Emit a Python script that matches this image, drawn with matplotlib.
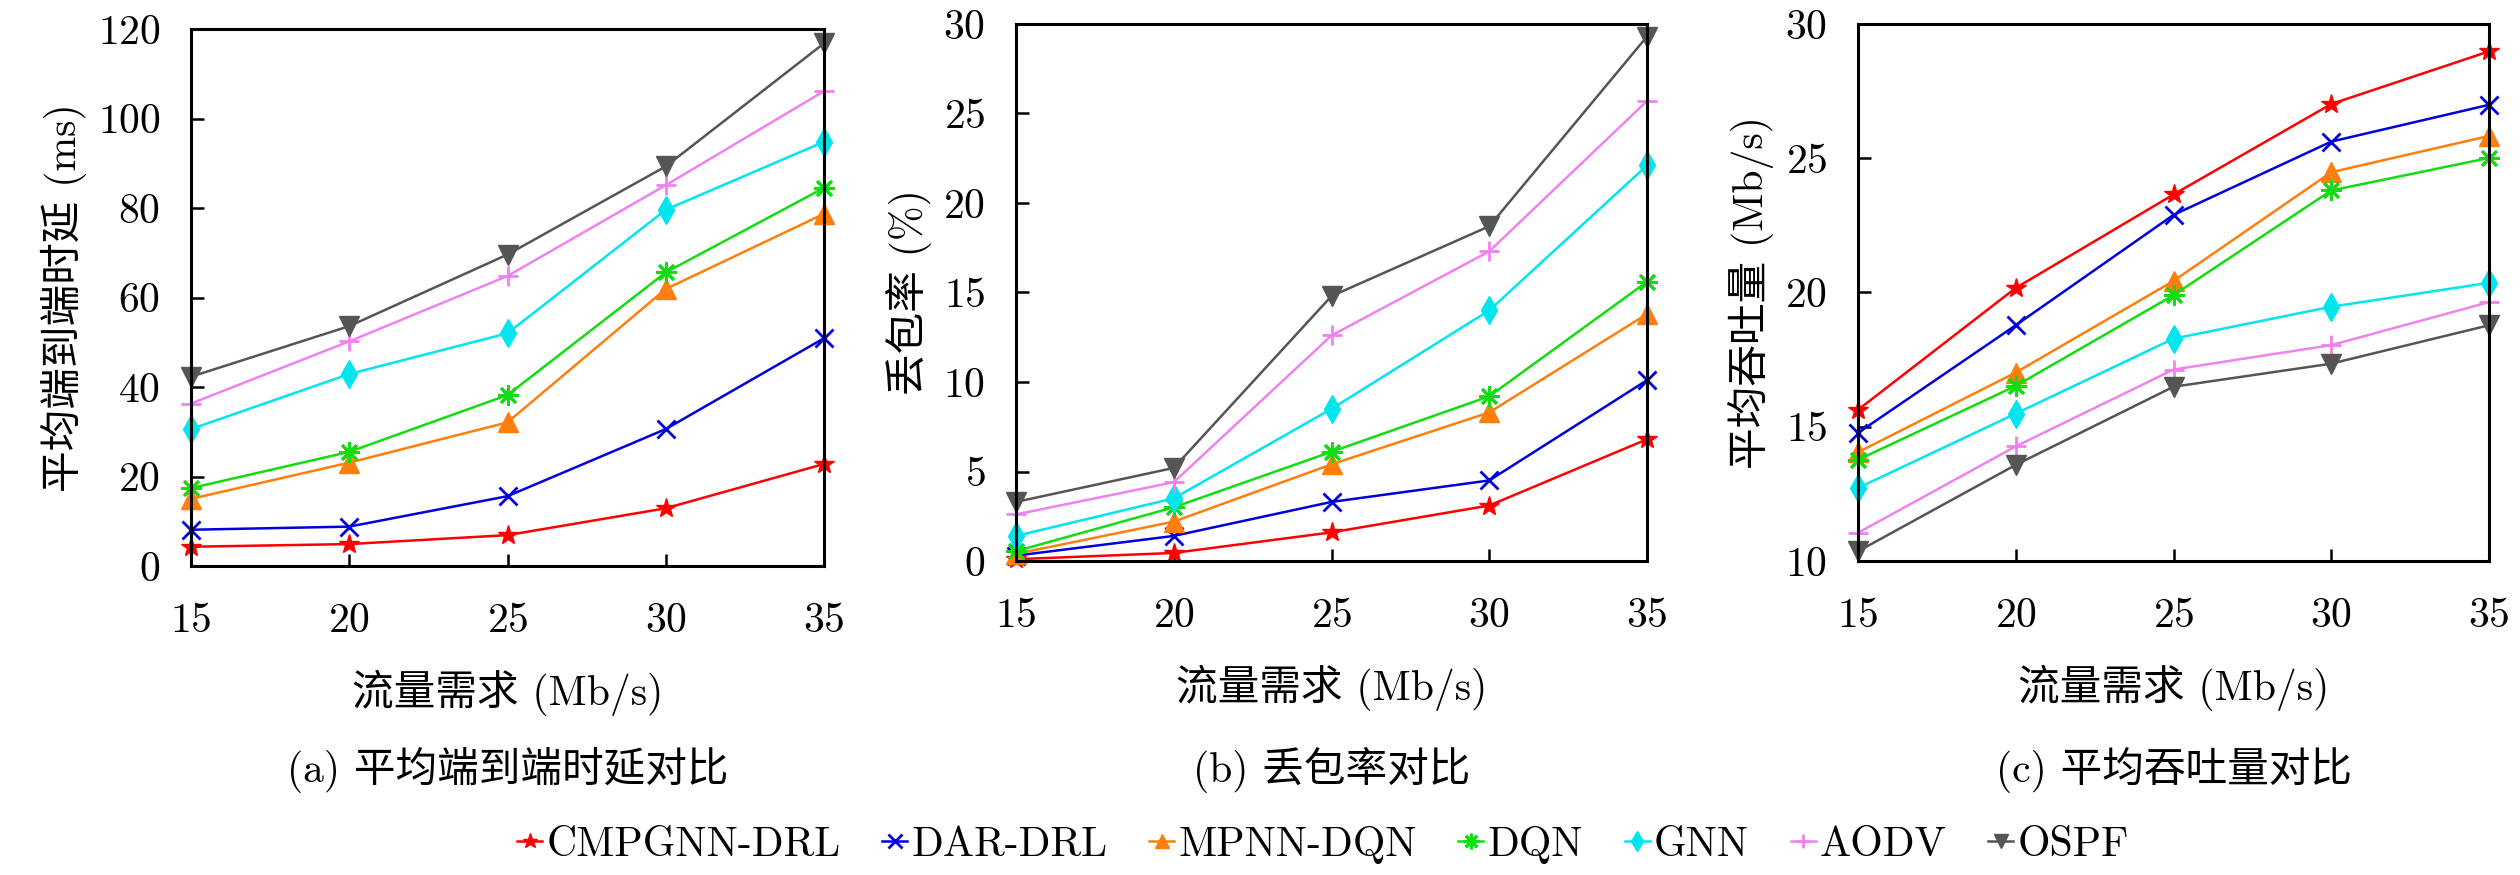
import numpy as np
import matplotlib
matplotlib.use('Agg')
import matplotlib.pyplot as plt

plt.rcParams['font.family'] = ['cmr10', 'Noto Sans CJK SC', 'DejaVu Sans']
plt.rcParams['axes.formatter.use_mathtext'] = True
plt.rcParams['mathtext.fontset'] = 'cm'

demand = [15, 20, 25, 30, 35]
methods = ['CMPGNN-DRL', 'DAR-DRL', 'MPNN-DQN', 'DQN', 'GNN', 'AODV', 'OSPF']

# (a) average end-to-end delay, ms
delay_cmpgnn = [4.3, 4.9, 6.9, 12.9, 22.8]
delay_dar = [8.1, 8.8, 15.6, 30.6, 50.9]
delay_mpnn = [15.0, 23.1, 32.1, 61.9, 78.7]
delay_dqn = [17.4, 25.5, 38.2, 65.6, 84.5]
delay_gnn = [30.6, 42.9, 52.0, 79.6, 94.8]
delay_aodv = [36.3, 50.2, 64.8, 85.1, 106.1]
delay_ospf = [42.3, 53.6, 69.6, 89.3, 116.8]

# (b) packet loss rate, %
loss_cmpgnn = [0.1, 0.45, 1.6, 3.1, 6.8]
loss_dar = [0.3, 1.4, 3.3, 4.5, 10.1]
loss_mpnn = [0.4, 2.2, 5.4, 8.3, 13.8]
loss_dqn = [0.55, 3.0, 6.1, 9.2, 15.6]
loss_gnn = [1.4, 3.5, 8.5, 14.0, 22.1]
loss_aodv = [2.6, 4.4, 12.6, 17.3, 25.7]
loss_ospf = [3.3, 5.2, 14.8, 18.7, 29.3]

# (c) average throughput, Mb/s
thr_cmpgnn = [15.63, 20.17, 23.65, 27.02, 28.98]
thr_dar = [14.77, 18.78, 22.89, 25.62, 26.99]
thr_mpnn = [14.05, 17.02, 20.43, 24.48, 25.83]
thr_dqn = [13.77, 16.52, 19.9, 23.8, 25.01]
thr_gnn = [12.72, 15.49, 18.28, 19.47, 20.36]
thr_aodv = [11.05, 14.27, 17.13, 18.04, 19.64]
thr_ospf = [10.36, 13.58, 16.49, 17.35, 18.78]

colors = ['#ff0000', '#0000dd', '#ff7f0e', '#11dd11', '#00e5ee', '#ee82ee', '#555555']
markers = ['*', 'x', '^', (8, 2, 0), 'd', '+', 'v']
msizes = [15, 13, 14, 15, 14, 14, 14]

panels = [
    ([delay_cmpgnn, delay_dar, delay_mpnn, delay_dqn, delay_gnn, delay_aodv, delay_ospf],
     '平均端到端时延 (ms)', (0, 120), [0, 20, 40, 60, 80, 100, 120], '(a) 平均端到端时延对比',
     [191, 824, 29, 566]),
    ([loss_cmpgnn, loss_dar, loss_mpnn, loss_dqn, loss_gnn, loss_aodv, loss_ospf],
     '丢包率 (%)', (0, 30), [0, 5, 10, 15, 20, 25, 30], '(b) 丢包率对比',
     [1016, 1647, 24, 561]),
    ([thr_cmpgnn, thr_dar, thr_mpnn, thr_dqn, thr_gnn, thr_aodv, thr_ospf],
     '平均吞吐量 (Mb/s)', (10, 30), [10, 15, 20, 25, 30], '(c) 平均吞吐量对比',
     [1858, 2489, 24, 561]),
]

W, H = 2520, 875
fig = plt.figure(figsize=(W / 100, H / 100), dpi=100)

fs = 30
for series, ylab, ylim, yticks, caption, (x0, x1, y0, y1) in panels:
    ax = fig.add_axes([x0 / W, 1 - y1 / H, (x1 - x0) / W, (y1 - y0) / H])
    for vals, name, c, mk, ms in zip(series, methods, colors, markers, msizes):
        ax.plot(demand, vals, color=c, marker=mk, markersize=ms, linewidth=1.8,
                markeredgewidth=2.0 if mk in ('x', '+', (8, 2, 0)) else 1.0,
                label=name, clip_on=False)
    ax.set_xlim(15, 35)
    ax.set_ylim(*ylim)
    ax.set_xticks(demand)
    ax.set_yticks(yticks)
    ax.tick_params(direction='in', length=9, width=1.8, labelsize=fs, top=False, right=False)
    ax.tick_params(axis='x', pad=26)
    ax.tick_params(axis='y', pad=22)
    for sp in ax.spines.values():
        sp.set_linewidth(2.2)
    ax.set_ylabel(ylab, fontsize=fs, labelpad=8)
    ax.set_xlabel('流量需求 (Mb/s)', fontsize=fs, labelpad=22)
    cx = (x0 + x1) / 2 / W
    fig.text(cx, 1 - 770 / H, caption, fontsize=fs, ha='center', va='center')

handles, labels = ax.get_legend_handles_labels()
fig.legend(handles, labels, loc='center', bbox_to_anchor=(0.525, 1 - 845 / H), ncol=7,
           frameon=False, fontsize=fs, handlelength=0.6, handletextpad=0.1,
           columnspacing=1.0, markerscale=0.75)

fig.savefig('out.png', dpi=100)
